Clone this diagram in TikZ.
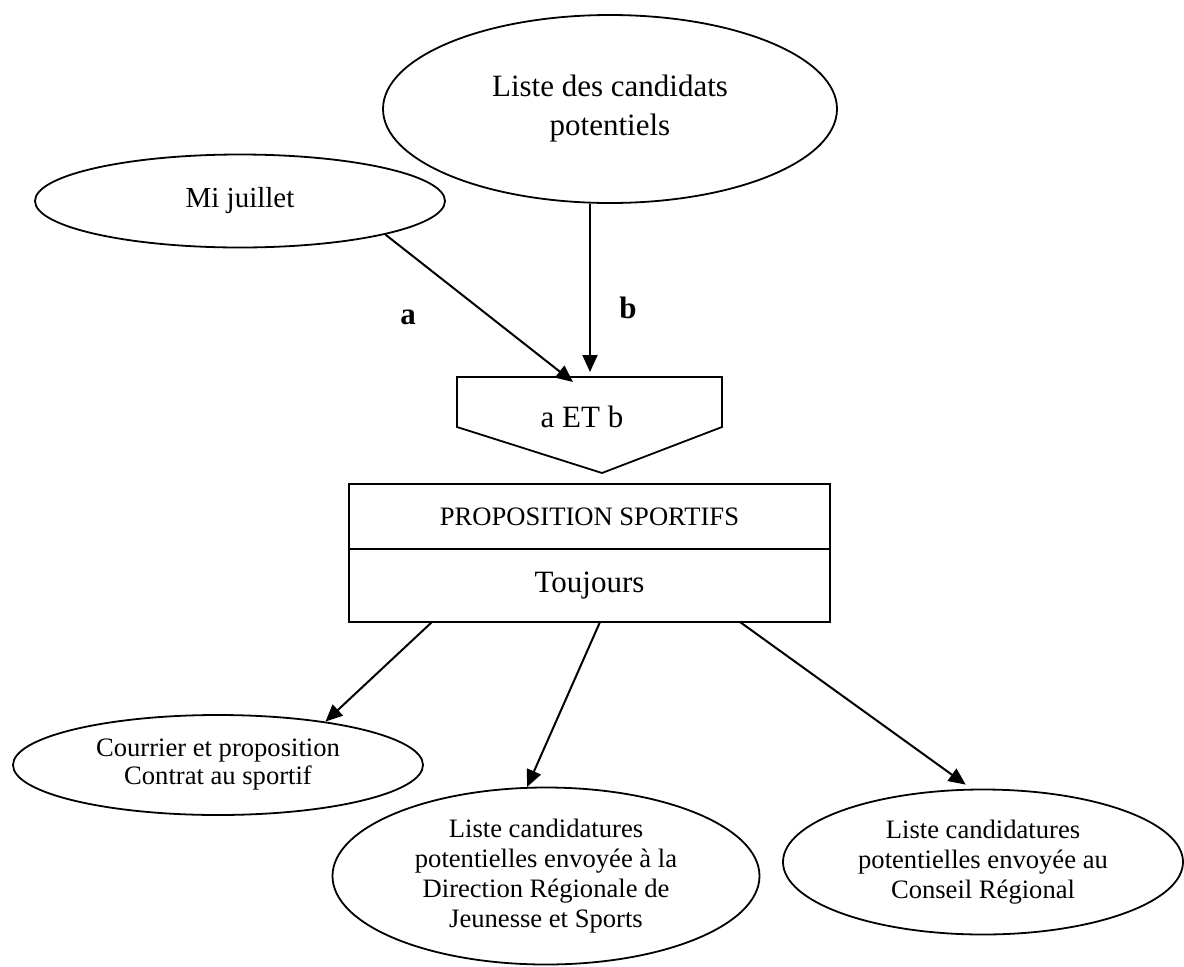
\documentclass[tikz,border=0pt]{standalone}
\usepackage{fontspec}
\setmainfont{Liberation Serif}
\usepackage{tikz}
\usetikzlibrary{shapes,arrows,positioning,calc,arrows.meta}

\tikzset{
    bulle/.style={draw, ellipse, line width=1.8pt, inner sep=0pt, align=center},
    boite/.style={draw, rectangle, line width=1.8pt, minimum width=481pt, inner sep=0pt, outer sep=0pt},
    fleche/.style={-{Triangle[length=17pt,width=15pt]}, line width=2pt},
    grand/.style={font=\fontsize{31}{39}\selectfont},
    petit/.style={font=\fontsize{26.6}{30}\selectfont},
    etiq/.style={font=\fontsize{31}{39}\selectfont\bfseries},
}

\begin{document}
\begin{tikzpicture}[x=1pt, y=-1pt]
    \useasboundingbox (0,0) rectangle (1184,967);

    % Sources
    \node[bulle, grand, minimum width=454pt, minimum height=188pt] (cand) at (610,109) {Liste des candidats\\potentiels};
    \node[bulle, font=\fontsize{29}{35}\selectfont, minimum width=410pt, minimum height=93pt] (mi) at (240,201) {Mi juillet};

    % Condition a ET b
    \draw[line width=1.8pt] (457,377) -- (722,377) -- (722,427) -- (602,473) -- (457,427) -- cycle;
    \node[grand] (et) at (582,417) {a ET b};
    \coordinate (ina) at (573,382);
    \coordinate (inb) at (590,372);

    \draw[fleche] (mi.-13.4) -- (ina);
    \draw[fleche] (inb |- cand.south) -- (inb);
    \node[etiq] (la) at (408,317) {a};
    \node[etiq] (lb) at (628,308) {b};

    % Action
    \node[boite, petit, minimum height=65pt] (prop) at (589.5,516.5) {PROPOSITION SPORTIFS};
    \node[boite, grand, minimum height=73pt, below=0pt of prop] (tjrs) {Toujours};

    % Resultats
    \node[bulle, font=\fontsize{26.6}{28}\selectfont, minimum width=410pt, minimum height=100pt] (cour) at (218,765) {Courrier et proposition\\Contrat au sportif};
    \node[bulle, petit, minimum width=427pt, minimum height=177pt] (drjs) at (546,876) {Liste candidatures\\potentielles envoyée à la\\Direction Régionale de\\Jeunesse et Sports};
    \node[bulle, petit, minimum width=400pt, minimum height=145pt] (cr) at (983,862) {Liste candidatures\\potentielles envoyée au\\Conseil Régional};

    \draw[fleche] ([xshift=-157.5pt]tjrs.south) -- (cour.22.9);
    \draw[fleche] ([xshift=10.5pt]tjrs.south) -- (drjs.102);
    \draw[fleche, shorten >=7pt] ([xshift=150.5pt]tjrs.south) -- (cr.99);
\end{tikzpicture}
\end{document}
